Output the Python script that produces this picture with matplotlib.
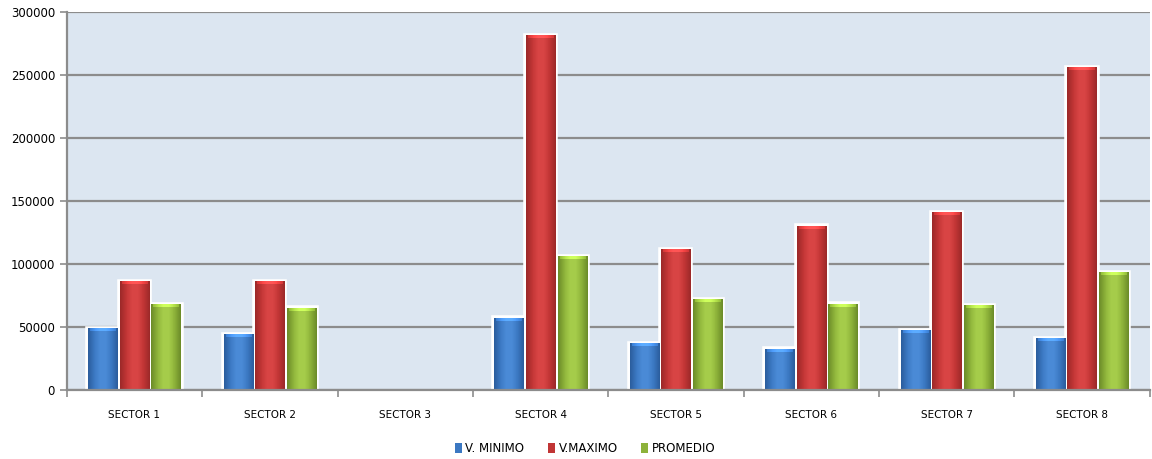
import numpy as np
import matplotlib.pyplot as plt
from matplotlib.colors import LinearSegmentedColormap
from matplotlib.patches import Patch

# datos
sectores = ['SECTOR 1', 'SECTOR 2', 'SECTOR 3', 'SECTOR 4',
            'SECTOR 5', 'SECTOR 6', 'SECTOR 7', 'SECTOR 8']
v_minimo = [48400, 43700, 0, 57100, 36500, 32500, 46800, 40500]
v_maximo = [85700, 85700, 0, 281000, 111100, 130000, 140500, 255500]
promedio = [67500, 65000, 0, 105500, 71400, 68000, 66700, 92900]

series = [
    ('V. MINIMO', v_minimo, ('#2a5c9c', '#4a8ad6', '#3b78c2')),
    ('V.MAXIMO', v_maximo, ('#9a2828', '#d84444', '#c13535')),
    ('PROMEDIO', promedio, ('#6a8a28', '#a5cc4a', '#8db23a')),
]

fig = plt.figure(figsize=(11.52, 4.59), dpi=100)
ax = fig.add_axes([0.058, 0.150, 0.940, 0.824])
ax.set_facecolor('#dce6f1')

x = np.arange(len(sectores))
offsets = [-0.233, 0.0, 0.233]
width = 0.215
px_per_unit = 378 / 300000

for k, (name, vals, (dark, light, mid)) in enumerate(series):
    bars = ax.bar(x + offsets[k], vals, width, color='white', edgecolor='white',
                  linewidth=4, zorder=3, clip_on=False)
    cmap = LinearSegmentedColormap.from_list(name, [dark, mid, light, light, mid, dark])
    for b in bars:
        h = b.get_height()
        if h == 0:
            b.set_visible(False)
            continue
        rows = max(int(h * px_per_unit), 4)
        grad = np.tile(np.linspace(0, 1, 64), (rows, 1))
        img = cmap(grad)
        # bisel claro en la parte superior
        img[-3:, 5:-5, :3] = np.minimum(1, img[-3:, 5:-5, :3] * 1.25)
        ax.imshow(img, extent=[b.get_x(), b.get_x() + b.get_width(), 0, h],
                  origin='lower', aspect='auto', zorder=4, interpolation='nearest')

ax.set_xlim(-0.5, len(sectores) - 0.5)
ax.set_ylim(0, 300000)
ax.set_yticks(np.arange(0, 300001, 50000))
ax.yaxis.grid(True, color='#8c8c8c', linewidth=1.6, zorder=1)
ax.set_axisbelow(True)

ax.set_xticks(np.arange(-0.5, len(sectores), 1.0))
ax.set_xticklabels([])
ax.set_xticks(x, minor=True)
ax.set_xticklabels(sectores, minor=True, fontsize=7.5)
ax.tick_params(axis='x', which='minor', length=0, pad=14)
ax.tick_params(axis='x', which='major', length=5, color='#8c8c8c', width=1.2)
ax.tick_params(axis='y', length=5, color='#8c8c8c', width=1.2, labelsize=8.5)

for s in ['top', 'right']:
    ax.spines[s].set_visible(False)
for s in ['left', 'bottom']:
    ax.spines[s].set_color('#8c8c8c')
    ax.spines[s].set_linewidth(1.6)
    ax.spines[s].set_zorder(5)

handles = [Patch(facecolor=c[2], edgecolor='none') for _, _, c in series]
fig.legend(handles, [s[0] for s in series], loc='lower center', ncol=3,
           bbox_to_anchor=(0.508, -0.015), frameon=False, fontsize=8.5,
           handlelength=0.6, handleheight=0.9, handletextpad=0.3, columnspacing=2.0)

fig.savefig('out.png', dpi=100)
